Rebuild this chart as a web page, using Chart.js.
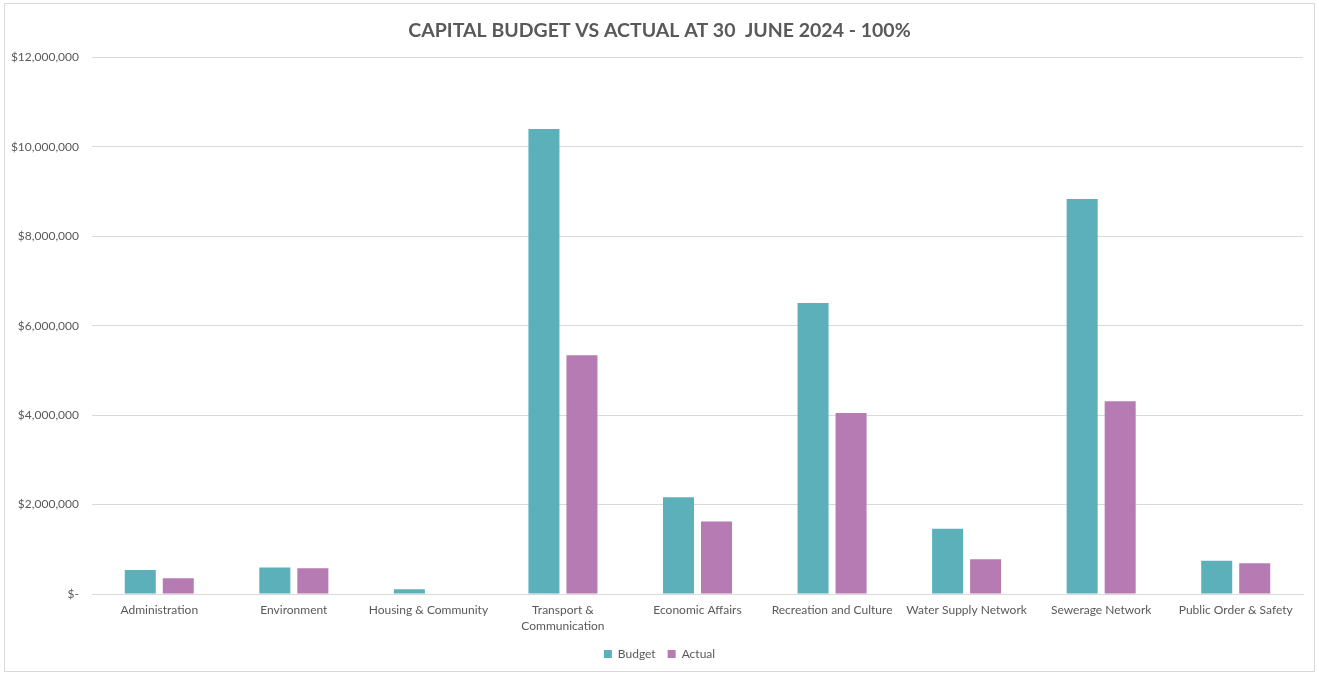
<!DOCTYPE html>
<html>
<head>
<meta charset="utf-8">
<script src="https://cdn.jsdelivr.net/npm/chart.js@4"></script>
<style>
    html, body { margin: 0; padding: 0; background: #ffffff; }
    #wrap { position: relative; width: 1319px; height: 675px; }
    #frame {
        position: absolute; left: 4px; top: 3px; right: 4px; bottom: 3px;
        border: 1px solid #d9d9d9; pointer-events: none;
    }
    canvas { position: absolute; left: 0; top: 0; }
</style>
</head>
<body>
<div id="wrap">
    <canvas id="capitalChart" width="1319" height="675"></canvas>
    <div id="frame"></div>
</div>
<script>
// 区分ごとの予算と実績 (ドル)
const categories = [
    'Administration',
    'Environment',
    'Housing & Community',
    ['Transport &', 'Communication'],
    'Economic Affairs',
    'Recreation and Culture',
    'Water Supply Network',
    'Sewerage Network',
    'Public Order & Safety'
];
const budgetValues = [537000, 590000, 105000, 10400000, 2165000, 6510000, 1460000, 8835000, 745000];
const actualValues = [350000, 575000, 0, 5340000, 1620000, 4045000, 776000, 4310000, 687000];
const yTicks = [0, 2000000, 4000000, 6000000, 8000000, 10000000, 12000000];

const textColor = '#595959';
const fontFamily = 'Lato, "Open Sans", sans-serif';

const formatDollar = value => value === 0 ? '$-' : '$' + value.toLocaleString('en-US');

// タイトルと凡例をキャンバス全幅の中央に置く
const centerBlocks = {
    id: 'centerBlocks',
    afterLayout: chart => {
        [chart.titleBlock, chart.legend].forEach(block => {
            if (block) {
                block.left = 0;
                block.right = chart.width;
            }
        });
    }
};

const ctx = document.getElementById('capitalChart').getContext('2d');
const capitalChart = new Chart(ctx, {
    type: 'bar',
    data: {
        labels: categories,
        datasets: [{
            label: 'Budget',
            data: budgetValues,
            backgroundColor: '#5bb0ba',
            categoryPercentage: 0.565,
            barPercentage: 0.816
        }, {
            label: 'Actual',
            data: actualValues,
            backgroundColor: '#b67bb2',
            categoryPercentage: 0.565,
            barPercentage: 0.816
        }]
    },
    plugins: [centerBlocks],
    options: {
        responsive: false,
        animation: false,
        layout: {
            padding: { left: 0, right: 16, top: 0, bottom: 5 }
        },
        scales: {
            x: {
                afterFit: scale => {
                    scale.height = 42;
                },
                grid: { display: false, drawTicks: false },
                border: { display: true, color: '#d9d9d9' },
                ticks: {
                    color: textColor,
                    font: { family: fontFamily, size: 12, lineHeight: 1.35 },
                    padding: 8,
                    maxRotation: 0,
                    autoSkip: false
                }
            },
            y: {
                min: 0,
                max: 12000000,
                afterBuildTicks: scale => {
                    scale.ticks = yTicks.map(v => ({ value: v }));
                },
                afterFit: scale => {
                    scale.width = 92;
                },
                grid: { color: '#d9d9d9', drawTicks: false },
                border: { display: false },
                ticks: {
                    color: textColor,
                    font: { family: fontFamily, size: 12 },
                    padding: 13,
                    callback: value => formatDollar(value)
                }
            }
        },
        plugins: {
            title: {
                display: true,
                text: 'CAPITAL BUDGET VS ACTUAL AT 30  JUNE 2024 - 100%',
                color: textColor,
                font: { family: fontFamily, size: 19.5, weight: 'bold' },
                padding: { top: 19, bottom: 15 }
            },
            legend: {
                position: 'bottom',
                labels: {
                    color: textColor,
                    font: { family: fontFamily, size: 12 },
                    boxWidth: 8,
                    boxHeight: 8,
                    padding: 12
                }
            },
            tooltip: { enabled: false }
        }
    }
});
</script>
</body>
</html>
